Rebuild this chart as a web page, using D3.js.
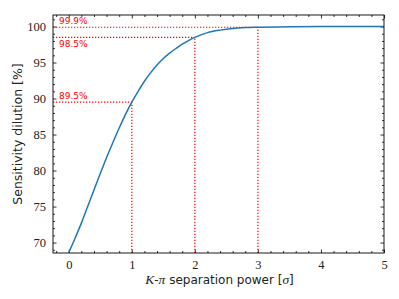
<!DOCTYPE html>
<html>
<head>
<meta charset="utf-8">
<script src="https://cdn.jsdelivr.net/npm/d3@7"></script>
<style>
  body { margin: 0; background: #fff; }
  svg { display: block; }
</style>
</head>
<body>
<div id="chart"></div>
<script>
// separation power (sigma) and sensitivity dilution (%)
var sepPower = [0, 0.1, 0.2, 0.3, 0.4, 0.5, 0.6, 0.7, 0.8, 0.9, 1.0, 1.1, 1.2, 1.3, 1.4, 1.5, 1.6, 1.7, 1.8, 1.9, 2.0, 2.2, 2.4, 2.6, 2.8, 3.0, 3.5, 4.0, 4.5, 5.0];
var dilution = [68.6, 70.6, 72.7, 75.0, 77.3, 79.6, 81.8, 83.9, 85.9, 87.8, 89.5, 91.0, 92.4, 93.6, 94.65, 95.55, 96.3, 96.95, 97.55, 98.05, 98.5, 99.15, 99.5, 99.73, 99.85, 99.9, 99.97, 99.99, 100, 100];

// marked working points
var markX = [1, 2, 3];
var markY = [89.5, 98.5, 99.9];
var markLabels = ["89.5%", "98.5%", "99.9%"];
var labelBelow = [false, true, false];

var xTicks = [0, 1, 2, 3, 4, 5];
var yTicks = [70, 75, 80, 85, 90, 95, 100];

var W = 399, H = 299;
var margin = { top: 15, right: 15, bottom: 46, left: 53 };
var width = W - margin.left - margin.right,
    height = H - margin.top - margin.bottom;

var svg = d3.select("#chart").append("svg")
  .attr("width", W).attr("height", H);
var g = svg.append("g")
  .attr("transform", "translate(" + margin.left + "," + margin.top + ")");

var x = d3.scaleLinear().domain([-0.25, 5]).range([0, width]);
var y = d3.scaleLinear().domain([68.55, 101.6]).range([height, 0]);

var tickFont = "'Liberation Serif', 'DejaVu Serif', serif";

// axes, ticks pointing inward on all sides
function styleAxis(sel) {
  sel.select(".domain").remove();
  sel.selectAll("line").attr("stroke", "#000").attr("stroke-width", 0.8);
  sel.selectAll("text").attr("font-family", tickFont).attr("font-size", 12.5).attr("fill", "#222");
}

var xMinor = d3.range(-0.2, 5.01, 0.2).filter(function (v) { return Math.abs(v - Math.round(v)) > 0.01; });
var yMinor = d3.range(69, 101.5, 1).filter(function (v) { return v % 5 !== 0; });

// bottom
g.append("g").attr("transform", "translate(0," + height + ")")
  .call(d3.axisBottom(x).tickValues(xTicks).tickSize(-3.5).tickPadding(7).tickFormat(d3.format("d")))
  .call(styleAxis);
g.append("g").attr("transform", "translate(0," + height + ")")
  .call(d3.axisBottom(x).tickValues(xMinor).tickSize(-2).tickFormat(""))
  .call(styleAxis);
// top
g.append("g")
  .call(d3.axisTop(x).tickValues(xTicks).tickSize(-3.5).tickFormat(""))
  .call(styleAxis);
g.append("g")
  .call(d3.axisTop(x).tickValues(xMinor).tickSize(-2).tickFormat(""))
  .call(styleAxis);
// left
g.append("g")
  .call(d3.axisLeft(y).tickValues(yTicks).tickSize(-3.5).tickPadding(7).tickFormat(d3.format("d")))
  .call(styleAxis);
g.append("g")
  .call(d3.axisLeft(y).tickValues(yMinor).tickSize(-2).tickFormat(""))
  .call(styleAxis);
// right
g.append("g").attr("transform", "translate(" + width + ",0)")
  .call(d3.axisRight(y).tickValues(yTicks).tickSize(-3.5).tickFormat(""))
  .call(styleAxis);
g.append("g").attr("transform", "translate(" + width + ",0)")
  .call(d3.axisRight(y).tickValues(yMinor).tickSize(-2).tickFormat(""))
  .call(styleAxis);

// red dotted guide lines
markX.forEach(function (mx, i) {
  g.append("line")
    .attr("x1", x(-0.25)).attr("x2", x(mx))
    .attr("y1", y(markY[i])).attr("y2", y(markY[i]))
    .attr("stroke", "#ff0000").attr("stroke-width", 1.2)
    .attr("stroke-dasharray", "1.3,1.7");
  g.append("line")
    .attr("x1", x(mx)).attr("x2", x(mx))
    .attr("y1", height).attr("y2", y(markY[i]))
    .attr("stroke", "#ff0000").attr("stroke-width", 1.2)
    .attr("stroke-dasharray", "1.3,1.7");
  g.append("text")
    .attr("x", x(-0.25) + 6)
    .attr("y", y(markY[i]) + (labelBelow[i] ? 10 : -3))
    .attr("font-family", "'DejaVu Sans', sans-serif")
    .attr("font-size", 9)
    .attr("fill", "#ff0000")
    .text(markLabels[i]);
});

// curve
var line = d3.line()
  .x(function (d, i) { return x(sepPower[i]); })
  .y(function (d) { return y(d); })
  .curve(d3.curveCatmullRom.alpha(0.5));
g.append("path")
  .datum(dilution)
  .attr("fill", "none")
  .attr("stroke", "#1f77b4")
  .attr("stroke-width", 1.5)
  .attr("d", line);

// frame
g.append("rect")
  .attr("width", width).attr("height", height)
  .attr("fill", "none").attr("stroke", "#000").attr("stroke-width", 0.9);

// axis labels
var xl = svg.append("text")
  .attr("x", margin.left + width / 2 + 1)
  .attr("y", H - 15)
  .attr("text-anchor", "middle")
  .attr("font-family", "'DejaVu Sans', sans-serif")
  .attr("font-size", 12)
  .attr("fill", "#222");
xl.append("tspan").attr("font-family", tickFont).attr("font-style", "italic").attr("font-size", 13.5).text("K");
xl.append("tspan").text("-");
xl.append("tspan").attr("font-family", tickFont).attr("font-style", "italic").attr("font-size", 13.5).text("π");
xl.append("tspan").text(" separation power [");
xl.append("tspan").attr("font-family", tickFont).attr("font-style", "italic").attr("font-size", 13.5).text("σ");
xl.append("tspan").text("]");

svg.append("text")
  .attr("transform", "translate(22," + (margin.top + height / 2) + ") rotate(-90)")
  .attr("text-anchor", "middle")
  .attr("font-family", "'DejaVu Sans', sans-serif")
  .attr("font-size", 12.5)
  .attr("fill", "#222")
  .text("Sensitivity dilution [%]");
</script>
</body>
</html>
